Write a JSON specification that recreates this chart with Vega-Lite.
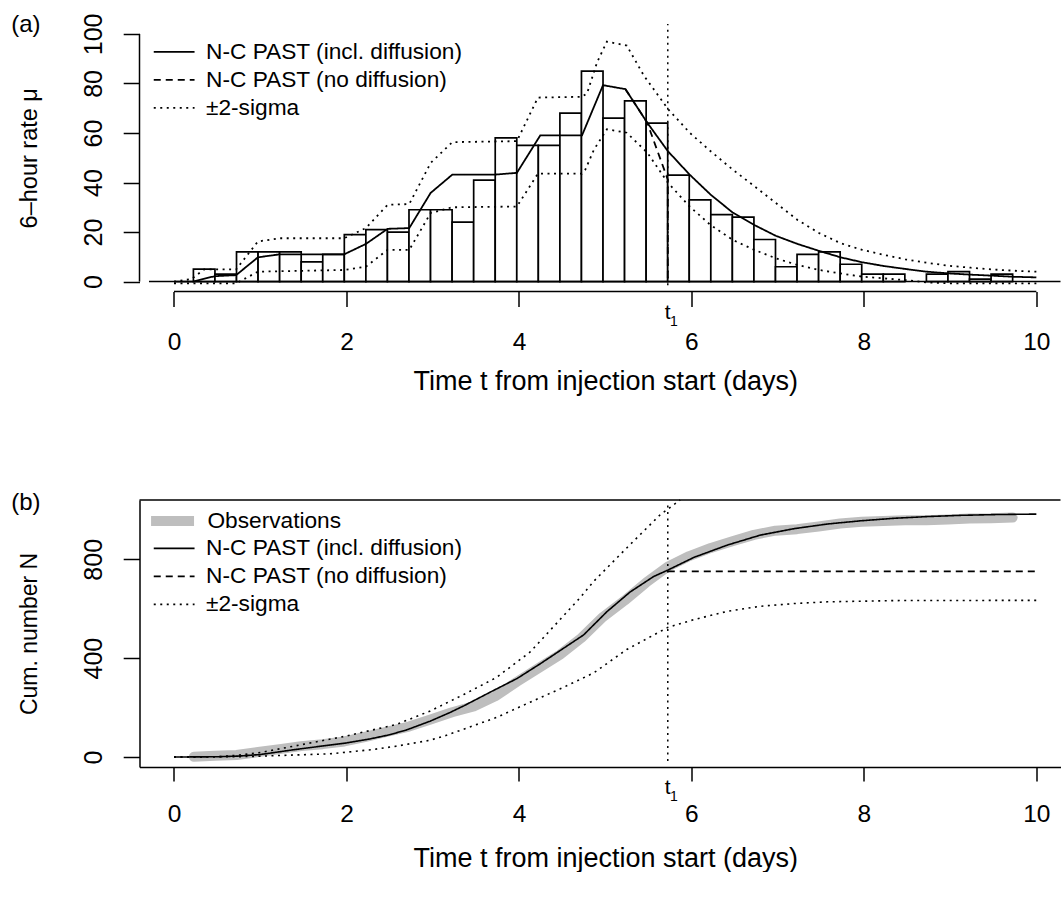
{
  "$schema": "https://vega.github.io/schema/vega-lite/v6.json",
  "background": "white",
  "autosize": {"type": "pad"},
  "padding": {"left": 10.5, "top": 12, "right": 0, "bottom": 0},
  "spacing": 95,
  "resolve": {
    "scale": {"strokeDash": "independent", "stroke": "independent"},
    "legend": {"strokeDash": "independent", "stroke": "independent"}
  },
  "config": {
    "view": {"stroke": null},
    "font": "Liberation Sans",
    "axis": {
      "grid": false,
      "labelFont": "Liberation Sans",
      "titleFont": "Liberation Sans",
      "labelColor": "black",
      "titleColor": "black",
      "tickColor": "black",
      "domainColor": "black",
      "tickWidth": 1.5,
      "domainWidth": 1.5,
      "titleFontWeight": "normal",
      "labelFontSize": 24.5,
      "labelFlush": false,
      "labelOverlap": false
    }
  },
  "datasets": {
    "hist": [
      {"t": 0.225, "t2": 0.475, "n": 5},
      {"t": 0.475, "t2": 0.725, "n": 3},
      {"t": 0.725, "t2": 0.975, "n": 12},
      {"t": 0.975, "t2": 1.225, "n": 12},
      {"t": 1.225, "t2": 1.475, "n": 12},
      {"t": 1.475, "t2": 1.725, "n": 8},
      {"t": 1.725, "t2": 1.975, "n": 11},
      {"t": 1.975, "t2": 2.225, "n": 19},
      {"t": 2.225, "t2": 2.475, "n": 21},
      {"t": 2.475, "t2": 2.725, "n": 20},
      {"t": 2.725, "t2": 2.975, "n": 29},
      {"t": 2.975, "t2": 3.225, "n": 29},
      {"t": 3.225, "t2": 3.475, "n": 24},
      {"t": 3.475, "t2": 3.725, "n": 41},
      {"t": 3.725, "t2": 3.975, "n": 58},
      {"t": 3.975, "t2": 4.225, "n": 55},
      {"t": 4.225, "t2": 4.475, "n": 55},
      {"t": 4.475, "t2": 4.725, "n": 68},
      {"t": 4.725, "t2": 4.975, "n": 85},
      {"t": 4.975, "t2": 5.225, "n": 66},
      {"t": 5.225, "t2": 5.475, "n": 73},
      {"t": 5.475, "t2": 5.725, "n": 64},
      {"t": 5.725, "t2": 5.975, "n": 43},
      {"t": 5.975, "t2": 6.225, "n": 33},
      {"t": 6.225, "t2": 6.475, "n": 27},
      {"t": 6.475, "t2": 6.725, "n": 26},
      {"t": 6.725, "t2": 6.975, "n": 17},
      {"t": 6.975, "t2": 7.225, "n": 6},
      {"t": 7.225, "t2": 7.475, "n": 11},
      {"t": 7.475, "t2": 7.725, "n": 12},
      {"t": 7.725, "t2": 7.975, "n": 7},
      {"t": 7.975, "t2": 8.225, "n": 3},
      {"t": 8.225, "t2": 8.475, "n": 3},
      {"t": 8.725, "t2": 8.975, "n": 3},
      {"t": 8.975, "t2": 9.225, "n": 4},
      {"t": 9.225, "t2": 9.475, "n": 1},
      {"t": 9.475, "t2": 9.725, "n": 3}
    ],
    "curvesA": [
      {"s": "N-C PAST (incl. diffusion)", "part": "m", "t": 0, "v": 0},
      {"s": "N-C PAST (incl. diffusion)", "part": "m", "t": 0.218, "v": 0},
      {"s": "N-C PAST (incl. diffusion)", "part": "m", "t": 0.474, "v": 2.2},
      {"s": "N-C PAST (incl. diffusion)", "part": "m", "t": 0.72, "v": 2.6},
      {"s": "N-C PAST (incl. diffusion)", "part": "m", "t": 0.973, "v": 9.8},
      {"s": "N-C PAST (incl. diffusion)", "part": "m", "t": 1.225, "v": 11.0},
      {"s": "N-C PAST (incl. diffusion)", "part": "m", "t": 1.973, "v": 11.0},
      {"s": "N-C PAST (incl. diffusion)", "part": "m", "t": 2.225, "v": 15.2},
      {"s": "N-C PAST (incl. diffusion)", "part": "m", "t": 2.477, "v": 21.3},
      {"s": "N-C PAST (incl. diffusion)", "part": "m", "t": 2.728, "v": 21.6},
      {"s": "N-C PAST (incl. diffusion)", "part": "m", "t": 2.976, "v": 35.8},
      {"s": "N-C PAST (incl. diffusion)", "part": "m", "t": 3.228, "v": 43.2},
      {"s": "N-C PAST (incl. diffusion)", "part": "m", "t": 3.724, "v": 43.2},
      {"s": "N-C PAST (incl. diffusion)", "part": "m", "t": 3.976, "v": 43.9},
      {"s": "N-C PAST (incl. diffusion)", "part": "m", "t": 4.247, "v": 59.0},
      {"s": "N-C PAST (incl. diffusion)", "part": "m", "t": 4.731, "v": 59.0},
      {"s": "N-C PAST (incl. diffusion)", "part": "m", "t": 4.975, "v": 79.3},
      {"s": "N-C PAST (incl. diffusion)", "part": "m", "t": 5.235, "v": 77.7},
      {"s": "N-C PAST (incl. diffusion)", "part": "m", "t": 5.487, "v": 64.2},
      {"s": "N-C PAST (incl. diffusion)", "part": "m", "t": 5.726, "v": 52.7},
      {"s": "N-C PAST (incl. diffusion)", "part": "m", "t": 5.979, "v": 43.2},
      {"s": "N-C PAST (incl. diffusion)", "part": "m", "t": 6.223, "v": 35.1},
      {"s": "N-C PAST (incl. diffusion)", "part": "m", "t": 6.478, "v": 27.9},
      {"s": "N-C PAST (incl. diffusion)", "part": "m", "t": 6.726, "v": 22.9},
      {"s": "N-C PAST (incl. diffusion)", "part": "m", "t": 6.978, "v": 18.5},
      {"s": "N-C PAST (incl. diffusion)", "part": "m", "t": 7.23, "v": 15.2},
      {"s": "N-C PAST (incl. diffusion)", "part": "m", "t": 7.48, "v": 12.4},
      {"s": "N-C PAST (incl. diffusion)", "part": "m", "t": 7.73, "v": 9.8},
      {"s": "N-C PAST (incl. diffusion)", "part": "m", "t": 7.98, "v": 7.8},
      {"s": "N-C PAST (incl. diffusion)", "part": "m", "t": 8.23, "v": 6.3},
      {"s": "N-C PAST (incl. diffusion)", "part": "m", "t": 8.48, "v": 5.1},
      {"s": "N-C PAST (incl. diffusion)", "part": "m", "t": 8.73, "v": 4.0},
      {"s": "N-C PAST (incl. diffusion)", "part": "m", "t": 8.985, "v": 3.3},
      {"s": "N-C PAST (incl. diffusion)", "part": "m", "t": 9.24, "v": 2.8},
      {"s": "N-C PAST (incl. diffusion)", "part": "m", "t": 9.485, "v": 2.4},
      {"s": "N-C PAST (incl. diffusion)", "part": "m", "t": 9.736, "v": 1.95},
      {"s": "N-C PAST (incl. diffusion)", "part": "m", "t": 10.0, "v": 1.7},
      {"s": "N-C PAST (no diffusion)", "part": "m", "t": 5.235, "v": 77.7},
      {"s": "N-C PAST (no diffusion)", "part": "m", "t": 5.487, "v": 64.2},
      {"s": "N-C PAST (no diffusion)", "part": "m", "t": 5.726, "v": 41.2},
      {"s": "N-C PAST (no diffusion)", "part": "m", "t": 5.7262, "v": 0},
      {"s": "±2-sigma", "part": "u", "t": 0, "v": 0},
      {"s": "±2-sigma", "part": "u", "t": 0.2, "v": 1.0},
      {"s": "±2-sigma", "part": "u", "t": 0.35, "v": 4.9},
      {"s": "±2-sigma", "part": "u", "t": 0.72, "v": 4.9},
      {"s": "±2-sigma", "part": "u", "t": 0.973, "v": 16.2},
      {"s": "±2-sigma", "part": "u", "t": 1.225, "v": 17.5},
      {"s": "±2-sigma", "part": "u", "t": 1.973, "v": 17.5},
      {"s": "±2-sigma", "part": "u", "t": 2.225, "v": 21.6},
      {"s": "±2-sigma", "part": "u", "t": 2.477, "v": 31.0},
      {"s": "±2-sigma", "part": "u", "t": 2.728, "v": 31.3},
      {"s": "±2-sigma", "part": "u", "t": 2.976, "v": 47.9},
      {"s": "±2-sigma", "part": "u", "t": 3.228, "v": 56.3},
      {"s": "±2-sigma", "part": "u", "t": 3.976, "v": 56.7},
      {"s": "±2-sigma", "part": "u", "t": 4.22, "v": 74.3},
      {"s": "±2-sigma", "part": "u", "t": 4.731, "v": 74.6},
      {"s": "±2-sigma", "part": "u", "t": 4.79, "v": 76},
      {"s": "±2-sigma", "part": "u", "t": 4.906, "v": 88.5},
      {"s": "±2-sigma", "part": "u", "t": 5.02, "v": 96.9},
      {"s": "±2-sigma", "part": "u", "t": 5.25, "v": 95.3},
      {"s": "±2-sigma", "part": "u", "t": 5.45, "v": 83.1},
      {"s": "±2-sigma", "part": "u", "t": 5.73, "v": 69.6},
      {"s": "±2-sigma", "part": "u", "t": 5.98, "v": 60.1},
      {"s": "±2-sigma", "part": "u", "t": 6.22, "v": 52.7},
      {"s": "±2-sigma", "part": "u", "t": 6.48, "v": 45.2},
      {"s": "±2-sigma", "part": "u", "t": 6.73, "v": 38.5},
      {"s": "±2-sigma", "part": "u", "t": 6.98, "v": 31.7},
      {"s": "±2-sigma", "part": "u", "t": 7.23, "v": 24.9},
      {"s": "±2-sigma", "part": "u", "t": 7.48, "v": 19.6},
      {"s": "±2-sigma", "part": "u", "t": 7.73, "v": 15.5},
      {"s": "±2-sigma", "part": "u", "t": 7.98, "v": 12.8},
      {"s": "±2-sigma", "part": "u", "t": 8.23, "v": 10.8},
      {"s": "±2-sigma", "part": "u", "t": 8.48, "v": 9.0},
      {"s": "±2-sigma", "part": "u", "t": 8.73, "v": 7.6},
      {"s": "±2-sigma", "part": "u", "t": 8.985, "v": 6.4},
      {"s": "±2-sigma", "part": "u", "t": 9.24, "v": 5.6},
      {"s": "±2-sigma", "part": "u", "t": 9.485, "v": 4.9},
      {"s": "±2-sigma", "part": "u", "t": 9.736, "v": 4.4},
      {"s": "±2-sigma", "part": "u", "t": 10.0, "v": 4.0},
      {"s": "±2-sigma", "part": "l", "t": 0, "v": -0.7},
      {"s": "±2-sigma", "part": "l", "t": 0.72, "v": -0.7},
      {"s": "±2-sigma", "part": "l", "t": 0.973, "v": 4.0},
      {"s": "±2-sigma", "part": "l", "t": 1.973, "v": 4.7},
      {"s": "±2-sigma", "part": "l", "t": 2.225, "v": 6.0},
      {"s": "±2-sigma", "part": "l", "t": 2.477, "v": 12.8},
      {"s": "±2-sigma", "part": "l", "t": 2.728, "v": 12.8},
      {"s": "±2-sigma", "part": "l", "t": 2.976, "v": 27.7},
      {"s": "±2-sigma", "part": "l", "t": 3.228, "v": 30.0},
      {"s": "±2-sigma", "part": "l", "t": 3.976, "v": 30.3},
      {"s": "±2-sigma", "part": "l", "t": 4.22, "v": 43.6},
      {"s": "±2-sigma", "part": "l", "t": 4.731, "v": 43.6},
      {"s": "±2-sigma", "part": "l", "t": 4.77, "v": 45.2},
      {"s": "±2-sigma", "part": "l", "t": 4.87, "v": 53.3},
      {"s": "±2-sigma", "part": "l", "t": 5.02, "v": 61.5},
      {"s": "±2-sigma", "part": "l", "t": 5.25, "v": 60.1},
      {"s": "±2-sigma", "part": "l", "t": 5.49, "v": 52.0},
      {"s": "±2-sigma", "part": "l", "t": 5.73, "v": 39.8},
      {"s": "±2-sigma", "part": "l", "t": 5.98, "v": 30.3},
      {"s": "±2-sigma", "part": "l", "t": 6.22, "v": 22.9},
      {"s": "±2-sigma", "part": "l", "t": 6.48, "v": 16.8},
      {"s": "±2-sigma", "part": "l", "t": 6.73, "v": 12.8},
      {"s": "±2-sigma", "part": "l", "t": 6.98, "v": 9.4},
      {"s": "±2-sigma", "part": "l", "t": 7.23, "v": 6.7},
      {"s": "±2-sigma", "part": "l", "t": 7.48, "v": 4.7},
      {"s": "±2-sigma", "part": "l", "t": 7.73, "v": 3.3},
      {"s": "±2-sigma", "part": "l", "t": 7.98, "v": 2.0},
      {"s": "±2-sigma", "part": "l", "t": 8.23, "v": 1.3},
      {"s": "±2-sigma", "part": "l", "t": 8.48, "v": 0.6},
      {"s": "±2-sigma", "part": "l", "t": 8.73, "v": -0.3},
      {"s": "±2-sigma", "part": "l", "t": 9.0, "v": -0.7},
      {"s": "±2-sigma", "part": "l", "t": 10.0, "v": -0.7}
    ],
    "obsB": [
      {"s": "Observations", "t": 0.23, "v": 1},
      {"s": "Observations", "t": 0.475, "v": 5},
      {"s": "Observations", "t": 0.725, "v": 8},
      {"s": "Observations", "t": 0.975, "v": 20},
      {"s": "Observations", "t": 1.225, "v": 32},
      {"s": "Observations", "t": 1.475, "v": 44},
      {"s": "Observations", "t": 1.725, "v": 52},
      {"s": "Observations", "t": 1.975, "v": 63},
      {"s": "Observations", "t": 2.225, "v": 82},
      {"s": "Observations", "t": 2.475, "v": 103},
      {"s": "Observations", "t": 2.725, "v": 123},
      {"s": "Observations", "t": 2.975, "v": 152},
      {"s": "Observations", "t": 3.225, "v": 181},
      {"s": "Observations", "t": 3.475, "v": 205},
      {"s": "Observations", "t": 3.725, "v": 246},
      {"s": "Observations", "t": 3.975, "v": 304},
      {"s": "Observations", "t": 4.225, "v": 359},
      {"s": "Observations", "t": 4.475, "v": 414},
      {"s": "Observations", "t": 4.725, "v": 482},
      {"s": "Observations", "t": 4.975, "v": 567},
      {"s": "Observations", "t": 5.225, "v": 633},
      {"s": "Observations", "t": 5.475, "v": 706},
      {"s": "Observations", "t": 5.725, "v": 770},
      {"s": "Observations", "t": 5.975, "v": 813},
      {"s": "Observations", "t": 6.225, "v": 846},
      {"s": "Observations", "t": 6.475, "v": 873},
      {"s": "Observations", "t": 6.725, "v": 899},
      {"s": "Observations", "t": 6.975, "v": 916},
      {"s": "Observations", "t": 7.225, "v": 922},
      {"s": "Observations", "t": 7.475, "v": 933},
      {"s": "Observations", "t": 7.725, "v": 945},
      {"s": "Observations", "t": 7.975, "v": 952},
      {"s": "Observations", "t": 8.225, "v": 955},
      {"s": "Observations", "t": 8.475, "v": 958},
      {"s": "Observations", "t": 8.725, "v": 958},
      {"s": "Observations", "t": 8.975, "v": 961},
      {"s": "Observations", "t": 9.225, "v": 965},
      {"s": "Observations", "t": 9.475, "v": 966},
      {"s": "Observations", "t": 9.725, "v": 969}
    ],
    "modelB": [
      {"s": "N-C PAST (incl. diffusion)", "part": "m", "t": 0, "v": 0},
      {"s": "N-C PAST (incl. diffusion)", "part": "m", "t": 0.5, "v": 1},
      {"s": "N-C PAST (incl. diffusion)", "part": "m", "t": 0.76, "v": 4},
      {"s": "N-C PAST (incl. diffusion)", "part": "m", "t": 1.0, "v": 10},
      {"s": "N-C PAST (incl. diffusion)", "part": "m", "t": 1.42, "v": 31},
      {"s": "N-C PAST (incl. diffusion)", "part": "m", "t": 2.0, "v": 57},
      {"s": "N-C PAST (incl. diffusion)", "part": "m", "t": 2.27, "v": 73},
      {"s": "N-C PAST (incl. diffusion)", "part": "m", "t": 2.5, "v": 90},
      {"s": "N-C PAST (incl. diffusion)", "part": "m", "t": 2.7, "v": 110},
      {"s": "N-C PAST (incl. diffusion)", "part": "m", "t": 2.97, "v": 145},
      {"s": "N-C PAST (incl. diffusion)", "part": "m", "t": 3.2, "v": 180},
      {"s": "N-C PAST (incl. diffusion)", "part": "m", "t": 3.36, "v": 207},
      {"s": "N-C PAST (incl. diffusion)", "part": "m", "t": 3.67, "v": 263},
      {"s": "N-C PAST (incl. diffusion)", "part": "m", "t": 3.98, "v": 318},
      {"s": "N-C PAST (incl. diffusion)", "part": "m", "t": 4.25, "v": 378},
      {"s": "N-C PAST (incl. diffusion)", "part": "m", "t": 4.5, "v": 436},
      {"s": "N-C PAST (incl. diffusion)", "part": "m", "t": 4.75, "v": 494},
      {"s": "N-C PAST (incl. diffusion)", "part": "m", "t": 5.02, "v": 588},
      {"s": "N-C PAST (incl. diffusion)", "part": "m", "t": 5.29, "v": 668},
      {"s": "N-C PAST (incl. diffusion)", "part": "m", "t": 5.56, "v": 730},
      {"s": "N-C PAST (incl. diffusion)", "part": "m", "t": 5.73, "v": 757},
      {"s": "N-C PAST (incl. diffusion)", "part": "m", "t": 6.03, "v": 808},
      {"s": "N-C PAST (incl. diffusion)", "part": "m", "t": 6.42, "v": 858},
      {"s": "N-C PAST (incl. diffusion)", "part": "m", "t": 6.8, "v": 898},
      {"s": "N-C PAST (incl. diffusion)", "part": "m", "t": 7.19, "v": 924},
      {"s": "N-C PAST (incl. diffusion)", "part": "m", "t": 7.58, "v": 943},
      {"s": "N-C PAST (incl. diffusion)", "part": "m", "t": 7.97, "v": 956},
      {"s": "N-C PAST (incl. diffusion)", "part": "m", "t": 8.35, "v": 966},
      {"s": "N-C PAST (incl. diffusion)", "part": "m", "t": 8.74, "v": 973},
      {"s": "N-C PAST (incl. diffusion)", "part": "m", "t": 9.13, "v": 978},
      {"s": "N-C PAST (incl. diffusion)", "part": "m", "t": 9.52, "v": 981},
      {"s": "N-C PAST (incl. diffusion)", "part": "m", "t": 10.0, "v": 983},
      {"s": "N-C PAST (no diffusion)", "part": "m", "t": 5.726, "v": 751},
      {"s": "N-C PAST (no diffusion)", "part": "m", "t": 10.0, "v": 751},
      {"s": "±2-sigma", "part": "u", "t": 0, "v": 0},
      {"s": "±2-sigma", "part": "u", "t": 0.5, "v": 1},
      {"s": "±2-sigma", "part": "u", "t": 0.76, "v": 8},
      {"s": "±2-sigma", "part": "u", "t": 1.0, "v": 18},
      {"s": "±2-sigma", "part": "u", "t": 1.42, "v": 46},
      {"s": "±2-sigma", "part": "u", "t": 2.0, "v": 85},
      {"s": "±2-sigma", "part": "u", "t": 2.58, "v": 132},
      {"s": "±2-sigma", "part": "u", "t": 2.97, "v": 186},
      {"s": "±2-sigma", "part": "u", "t": 3.36, "v": 253},
      {"s": "±2-sigma", "part": "u", "t": 3.74, "v": 322},
      {"s": "±2-sigma", "part": "u", "t": 4.13, "v": 425},
      {"s": "±2-sigma", "part": "u", "t": 4.5, "v": 565},
      {"s": "±2-sigma", "part": "u", "t": 4.71, "v": 645},
      {"s": "±2-sigma", "part": "u", "t": 4.87, "v": 712},
      {"s": "±2-sigma", "part": "u", "t": 5.25, "v": 846},
      {"s": "±2-sigma", "part": "u", "t": 5.64, "v": 981},
      {"s": "±2-sigma", "part": "u", "t": 5.87, "v": 1040},
      {"s": "±2-sigma", "part": "l", "t": 0, "v": 0},
      {"s": "±2-sigma", "part": "l", "t": 0.88, "v": 2},
      {"s": "±2-sigma", "part": "l", "t": 1.81, "v": 13},
      {"s": "±2-sigma", "part": "l", "t": 2.3, "v": 30},
      {"s": "±2-sigma", "part": "l", "t": 2.58, "v": 44},
      {"s": "±2-sigma", "part": "l", "t": 2.97, "v": 68},
      {"s": "±2-sigma", "part": "l", "t": 3.16, "v": 88},
      {"s": "±2-sigma", "part": "l", "t": 3.74, "v": 160},
      {"s": "±2-sigma", "part": "l", "t": 4.13, "v": 222},
      {"s": "±2-sigma", "part": "l", "t": 4.48, "v": 276},
      {"s": "±2-sigma", "part": "l", "t": 4.71, "v": 314},
      {"s": "±2-sigma", "part": "l", "t": 4.87, "v": 341},
      {"s": "±2-sigma", "part": "l", "t": 5.25, "v": 435},
      {"s": "±2-sigma", "part": "l", "t": 5.73, "v": 525},
      {"s": "±2-sigma", "part": "l", "t": 6.03, "v": 556},
      {"s": "±2-sigma", "part": "l", "t": 6.42, "v": 590},
      {"s": "±2-sigma", "part": "l", "t": 6.8, "v": 610},
      {"s": "±2-sigma", "part": "l", "t": 7.19, "v": 621},
      {"s": "±2-sigma", "part": "l", "t": 7.58, "v": 628},
      {"s": "±2-sigma", "part": "l", "t": 8.35, "v": 633},
      {"s": "±2-sigma", "part": "l", "t": 10.0, "v": 634}
    ]
  },
  "vconcat": [
    {
      "width": 921.0,
      "height": 267.5,
      "layer": [
        {
          "data": {"name": "hist"},
          "mark": {"type": "rect", "fill": "white", "stroke": "black", "strokeWidth": 1.7},
          "encoding": {
            "x": {"field": "t", "type": "quantitative",
              "scale": {"domain": [-0.4, 10.28], "nice": false, "zero": false},
              "axis": {"values": [0, 2, 4, 6, 8, 10], "format": "d", "domain": false, "tickSize": 15, "labelPadding": 43, "labelBaseline": "alphabetic",
                "title": "Time t from injection start (days)", "titleFontSize": 27, "titleX": 465.7, "titleY": 98, "titleBaseline": "alphabetic", "titleAlign": "center"}},
            "x2": {"field": "t2"},
            "y": {"field": "n", "type": "quantitative",
              "scale": {"domain": [-4, 104], "nice": false, "zero": false},
              "axis": {"values": [0, 20, 40, 60, 80, 100], "domain": false, "tickSize": 16.3, "labelAngle": -90, "labelAlign": "center", "labelBaseline": "alphabetic", "labelPadding": 21.5, "labelFontSize": 25,
                "title": "6–hour rate μ", "titleFontSize": 23.5, "titleX": -102.8, "titleY": 133.75, "titleAngle": -90, "titleAlign": "center", "titleBaseline": "alphabetic"}},
            "y2": {"datum": 0}
          }
        },
        {
          "data": {"name": "curvesA"},
          "mark": {"type": "line", "color": "black", "strokeWidth": 1.8},
          "encoding": {
            "x": {"field": "t", "type": "quantitative"},
            "y": {"field": "v", "type": "quantitative"},
            "detail": {"field": "part"},
            "strokeDash": {"field": "s", "type": "nominal",
              "scale": {"domain": ["N-C PAST (incl. diffusion)", "N-C PAST (no diffusion)", "±2-sigma"], "range": [[1, 0], [7, 5], [2, 4.5]]},
              "legend": {"title": null, "orient": "none", "legendX": 23.3, "legendY": 16.6, "symbolType": "M-2.4,0H2.4", "symbolSize": 289, "symbolStrokeWidth": 1.8, "symbolStrokeColor": "black", "symbolFillColor": "transparent", "labelFontSize": 22.7, "labelFont": "Liberation Sans", "labelColor": "black", "labelOffset": 20.5, "rowPadding": 4.0, "padding": 0, "labelLimit": 1000}}
          }
        },
        {
          "data": {"values": [{}]},
          "mark": {"type": "rule", "color": "black", "strokeWidth": 1.5, "strokeDash": [2, 4.5]},
          "encoding": {"x": {"datum": 5.726}, "y": {"datum": -1.5}, "y2": {"datum": 104}}
        },
        {
          "data": {"values": [{}]},
          "mark": {"type": "rule", "color": "black", "strokeWidth": 1.5},
          "encoding": {"x": {"datum": -0.29}, "x2": {"datum": 10.28}, "y": {"datum": 0}}
        },
        {
          "data": {"values": [{}]},
          "mark": {"type": "rule", "color": "black", "strokeWidth": 1.5},
          "encoding": {"x": {"datum": 0}, "x2": {"datum": 10}, "y": {"datum": -4}}
        },
        {
          "data": {"values": [{}]},
          "mark": {"type": "rule", "color": "black", "strokeWidth": 1.5},
          "encoding": {"x": {"datum": -0.4}, "y": {"datum": 0}, "y2": {"datum": 100}}
        },
        {
          "data": {"values": [{}]},
          "mark": {"type": "text", "text": "t", "fontSize": 21, "font": "Liberation Sans", "color": "black", "baseline": "alphabetic", "align": "center", "dy": 27},
          "encoding": {"x": {"datum": 5.726}, "y": {"datum": -4}}
        },
        {
          "data": {"values": [{}]},
          "mark": {"type": "text", "text": "1", "fontSize": 14, "font": "Liberation Sans", "color": "black", "baseline": "alphabetic", "align": "center", "dx": 6, "dy": 34},
          "encoding": {"x": {"datum": 5.726}, "y": {"datum": -4}}
        },
        {
          "data": {"values": [{}]},
          "mark": {"type": "text", "text": "(a)", "fontSize": 24, "font": "Liberation Sans", "color": "black", "baseline": "alphabetic", "align": "left", "dx": -128.3, "dy": 7.8},
          "encoding": {"x": {"datum": -0.4}, "y": {"datum": 104}}
        }
      ]
    },
    {
      "width": 921.0,
      "height": 266.9,
      "layer": [
        {
          "data": {"name": "obsB"},
          "mark": {"type": "line", "strokeWidth": 10, "strokeCap": "round", "strokeJoin": "round"},
          "encoding": {
            "x": {"field": "t", "type": "quantitative",
              "scale": {"domain": [-0.4, 10.28], "nice": false, "zero": false},
              "axis": {"values": [0, 2, 4, 6, 8, 10], "format": "d", "domain": true, "tickSize": 14, "labelPadding": 41, "labelBaseline": "alphabetic",
                "title": "Time t from injection start (days)", "titleFontSize": 27, "titleX": 465.7, "titleY": 100, "titleBaseline": "alphabetic", "titleAlign": "center"}},
            "y": {"field": "v", "type": "quantitative",
              "scale": {"domain": [-40, 1040], "nice": false, "zero": false},
              "axis": {"values": [0, 400, 800], "domain": true, "tickSize": 16.3, "labelAngle": -90, "labelAlign": "center", "labelBaseline": "alphabetic", "labelPadding": 21.5, "labelFontSize": 25,
                "title": "Cum. number N", "titleFontSize": 23, "titleX": -102.8, "titleY": 133.45, "titleAngle": -90, "titleAlign": "center", "titleBaseline": "alphabetic"}},
            "stroke": {"field": "s", "type": "nominal",
              "scale": {"domain": ["Observations"], "range": ["#BEBEBE"]},
              "legend": {"title": null, "orient": "none", "legendX": 21.7, "legendY": 9.65, "symbolType": "M-3.58,0H3.58", "symbolSize": 144, "symbolStrokeWidth": 10, "symbolFillColor": "transparent", "labelFontSize": 22.7, "labelFont": "Liberation Sans", "labelColor": "black", "labelOffset": 23.5, "padding": 0, "labelLimit": 1000}}
          }
        },
        {
          "data": {"name": "modelB"},
          "mark": {"type": "line", "color": "black", "strokeWidth": 1.6},
          "encoding": {
            "x": {"field": "t", "type": "quantitative"},
            "y": {"field": "v", "type": "quantitative"},
            "detail": {"field": "part"},
            "strokeDash": {"field": "s", "type": "nominal",
              "scale": {"domain": ["N-C PAST (incl. diffusion)", "N-C PAST (no diffusion)", "±2-sigma"], "range": [[1, 0], [7, 5], [2, 4.5]]},
              "legend": {"title": null, "orient": "none", "legendX": 23.3, "legendY": 37, "symbolType": "M-2.4,0H2.4", "symbolSize": 289, "symbolStrokeWidth": 1.6, "symbolStrokeColor": "black", "symbolFillColor": "transparent", "labelFontSize": 22.7, "labelFont": "Liberation Sans", "labelColor": "black", "labelOffset": 20.5, "rowPadding": 4.0, "padding": 0, "labelLimit": 1000}}
          }
        },
        {
          "data": {"values": [{}]},
          "mark": {"type": "rule", "color": "black", "strokeWidth": 1.5, "strokeDash": [2, 4.5]},
          "encoding": {"x": {"datum": 5.726}, "y": {"datum": -16}, "y2": {"datum": 1035}}
        },
        {
          "data": {"values": [{}]},
          "mark": {"type": "rule", "color": "black", "strokeWidth": 1.5},
          "encoding": {"x": {"datum": -0.4}, "x2": {"datum": 10.28}, "y": {"datum": 1040}}
        },
        {
          "data": {"values": [{}]},
          "mark": {"type": "text", "text": "t", "fontSize": 21, "font": "Liberation Sans", "color": "black", "baseline": "alphabetic", "align": "center", "dy": 27},
          "encoding": {"x": {"datum": 5.726}, "y": {"datum": -40}}
        },
        {
          "data": {"values": [{}]},
          "mark": {"type": "text", "text": "1", "fontSize": 14, "font": "Liberation Sans", "color": "black", "baseline": "alphabetic", "align": "center", "dx": 6, "dy": 34},
          "encoding": {"x": {"datum": 5.726}, "y": {"datum": -40}}
        },
        {
          "data": {"values": [{}]},
          "mark": {"type": "text", "text": "(b)", "fontSize": 24, "font": "Liberation Sans", "color": "black", "baseline": "alphabetic", "align": "left", "dx": -128.3, "dy": 9.5},
          "encoding": {"x": {"datum": -0.4}, "y": {"datum": 1040}}
        }
      ]
    }
  ]
}
